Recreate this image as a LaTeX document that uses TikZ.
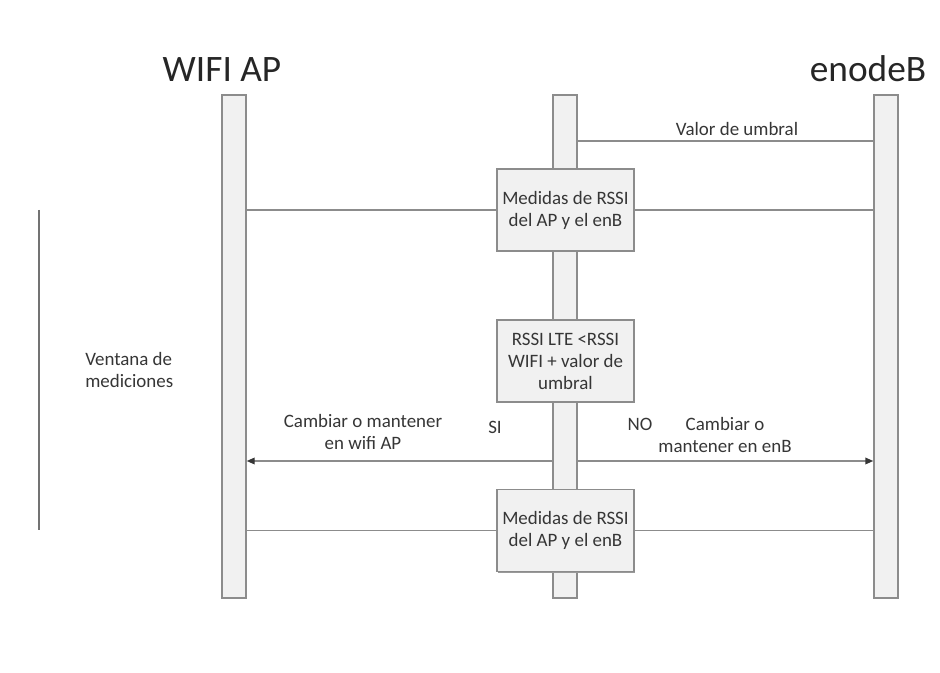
\documentclass[tikz,border=0pt]{standalone}
\usepackage{fontspec}
\setmainfont{Carlito}
\usetikzlibrary{arrows.meta,shadows}
\definecolor{linegray}{HTML}{8C8C8C}
\definecolor{barfill}{HTML}{F1F1F1}
\definecolor{txt}{HTML}{363636}
\tikzset{
  lifeline/.style={draw=linegray, fill=barfill, line width=1.1pt,
    minimum width=18pt, minimum height=377.25pt, inner sep=0pt,
    drop shadow={shadow xshift=0.7pt, shadow yshift=-0.9pt, fill=black!40, opacity=1}},
  procbox/.style={draw=linegray, fill=barfill, line width=1.1pt,
    minimum width=102.75pt, minimum height=61.5pt,
    align=center, inner sep=0pt, text=txt,
    font=\fontsize{14.2}{16.5}\selectfont,
    drop shadow={shadow xshift=0.7pt, shadow yshift=-0.9pt, fill=black!40, opacity=1}},
  msg/.style={draw=linegray, line width=1.1pt},
  lbl/.style={font=\fontsize{14.2}{16.5}\selectfont, text=txt, align=center, inner sep=0pt},
  headline/.style={font=\fontsize{28}{30}\selectfont, text=black!85, inner sep=0pt, anchor=base},
  tip/.style={-{Triangle[length=6pt,width=5pt,color=txt]}}
}
\begin{document}
\begin{tikzpicture}[x=0.75pt,y=-0.75pt]
\useasboundingbox (0,0) rectangle (940,673);
\fill[white] (0,0) rectangle (940,673);

% participants
\node[headline] (tWifi) at (222,82) {WIFI AP};
\node[headline] (tEnb) at (868,82) {enodeB};

% lifelines
\node[lifeline] (L) at (234,346.5) {};
\node[lifeline] (M) at (565,346.5) {};
\node[lifeline] (R) at (886,346.5) {};

% threshold message
\draw[msg] (M.east |- 0,141) -- (R.west |- 0,141);
\node[lbl] (vUmb) at (737,129) {Valor de umbral};

% processing boxes
\node[procbox] (B1) at (565.5,210) {Medidas de RSSI\\del AP y el enB};
\node[procbox] (B2) at (565.5,361) {RSSI LTE <RSSI\\WIFI + valor de\\umbral};
\node[procbox] (B3) at (565.5,530.5) {Medidas de RSSI\\del AP y el enB};

% measurement links
\draw[msg] (L.east |- B1.west) -- (B1.west);
\draw[msg] (B1.east) -- (R.west |- B1.east);
\draw[msg] (L.east |- B3.west) -- (B3.west);
\draw[msg] (B3.east) -- (R.west |- B3.east);

% decision branches
\draw[msg,tip] (M.west |- 0,461) -- (L.east |- 0,461);
\draw[msg,tip] (M.east |- 0,461) -- (R.west |- 0,461);
\node[lbl] (cWifi) at (363,432) {Cambiar o mantener\\en wifi AP};
\node[lbl] (si) at (495,427) {SI};
\node[lbl] (no) at (640,424) {NO};
\node[lbl] (cEnb) at (725,435) {Cambiar o\\mantener en enB};

% measurement window
\coordinate (wTop) at (39,210);
\coordinate (wBot) at (39,530);
\draw[draw=black!55, line width=1.1pt] (wTop) -- (wBot);
\node[lbl, anchor=west, align=left] (win) at (85,370) {Ventana de\\mediciones};
\end{tikzpicture}
\end{document}
